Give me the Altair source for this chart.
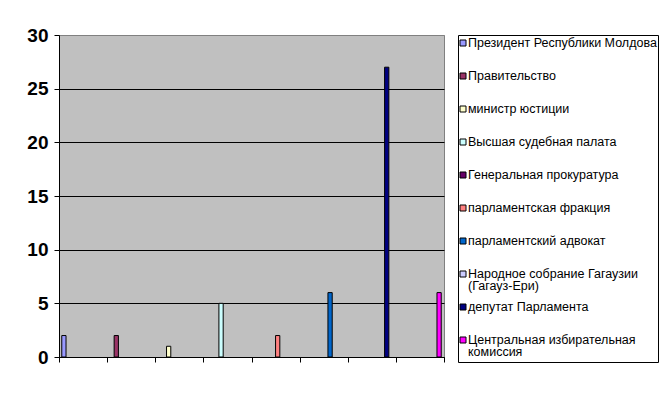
import altair as alt
import pandas as pd

series = [
    "Президент Республики Молдова",
    "Правительство",
    "министр юстиции",
    "Высшая судебная палата",
    "Генеральная прокуратура",
    "парламентская фракция",
    "парламентский адвокат",
    "Народное собрание Гагаузии (Гагауз-Ери)",
    "депутат Парламента",
    "Центральная избирательная комиссия",
]
legend_lines = [
    "Президент Республики Молдова",
    "Правительство",
    "министр юстиции",
    "Высшая судебная палата",
    "Генеральная прокуратура",
    "парламентская фракция",
    "парламентский адвокат",
    "Народное собрание Гагаузии\n(Гагауз-Ери)",
    "депутат Парламента",
    "Центральная избирательная\nкомиссия",
]
colors = ["#9999FF", "#993366", "#FFFFCC", "#CCFFFF", "#660066",
          "#FF8080", "#0066CC", "#CCCCFF", "#000080", "#FF00FF"]

categories = ["1", "2", "3", "4", "5", "6", "7", "8"]
bar_series = [
    "Президент Республики Молдова",
    "Правительство",
    "министр юстиции",
    "Высшая судебная палата",
    "парламентская фракция",
    "парламентский адвокат",
    "депутат Парламента",
    "Центральная избирательная комиссия",
]
bar_values = [2, 2, 1, 5, 2, 6, 27, 6]

bars_df = pd.DataFrame({"category": categories, "series": bar_series, "value": bar_values})
legend_df = pd.DataFrame({"series": series, "label": legend_lines})

FONT = "Liberation Sans"
color_scale = alt.Scale(domain=series, range=colors)

main = alt.Chart(bars_df).mark_bar(stroke="black", strokeWidth=1).encode(
    x=alt.X("category:N", sort=categories,
            scale=alt.Scale(paddingInner=0, paddingOuter=0),
            axis=alt.Axis(title=None, labels=False, tickBand="extent", grid=False,
                          domainColor="black", tickColor="black", tickSize=5)),
    xOffset=alt.XOffset("series:N", sort=series,
                        scale=alt.Scale(domain=series, paddingInner=0, paddingOuter=0.65)),
    y=alt.Y("value:Q", scale=alt.Scale(domain=[0, 30], nice=False),
            axis=alt.Axis(title=None, values=[0, 5, 10, 15, 20, 25, 30],
                          labelFont=FONT, labelFontSize=19, labelFontWeight="bold",
                          labelColor="black", labelPadding=6,
                          tickColor="black", tickSize=5, domainColor="black",
                          gridColor={"condition": {"test": "datum.value === 30", "value": "#808080"},
                                     "value": "black"},
                          gridOpacity=1)),
    color=alt.Color("series:N", scale=color_scale, legend=None),
).properties(
    width=385, height=322,
    view=alt.ViewBackground(fill="#C0C0C0", stroke="#808080", strokeWidth=1),
)

yleg = alt.Y("series:N", sort=series, scale=alt.Scale(domain=series, range=[8, 305], padding=0), axis=None)

leg_sym = alt.Chart(legend_df).mark_square(size=36, stroke="black", strokeWidth=1, opacity=1).encode(
    x=alt.value(5),
    y=yleg,
    color=alt.Color("series:N", scale=color_scale, legend=None),
)
leg_txt = alt.Chart(legend_df).mark_text(
    align="left", baseline="top", dy=-6, font=FONT, fontSize=12.5,
    lineBreak="\n", lineHeight=12, color="black",
).encode(
    x=alt.value(10),
    y=yleg,
    text="label:N",
)
legend = alt.layer(leg_sym, leg_txt).properties(
    width=200, height=327,
    view=alt.ViewBackground(fill="white", stroke="black", strokeWidth=1),
)

chart = alt.hconcat(main, legend, spacing=14, bounds="flush").properties(
    padding={"left": 18, "top": 17, "right": 0, "bottom": 0},
    background="white",
)

chart.save("out.html", embed_options={"renderer": "svg", "actions": False})
